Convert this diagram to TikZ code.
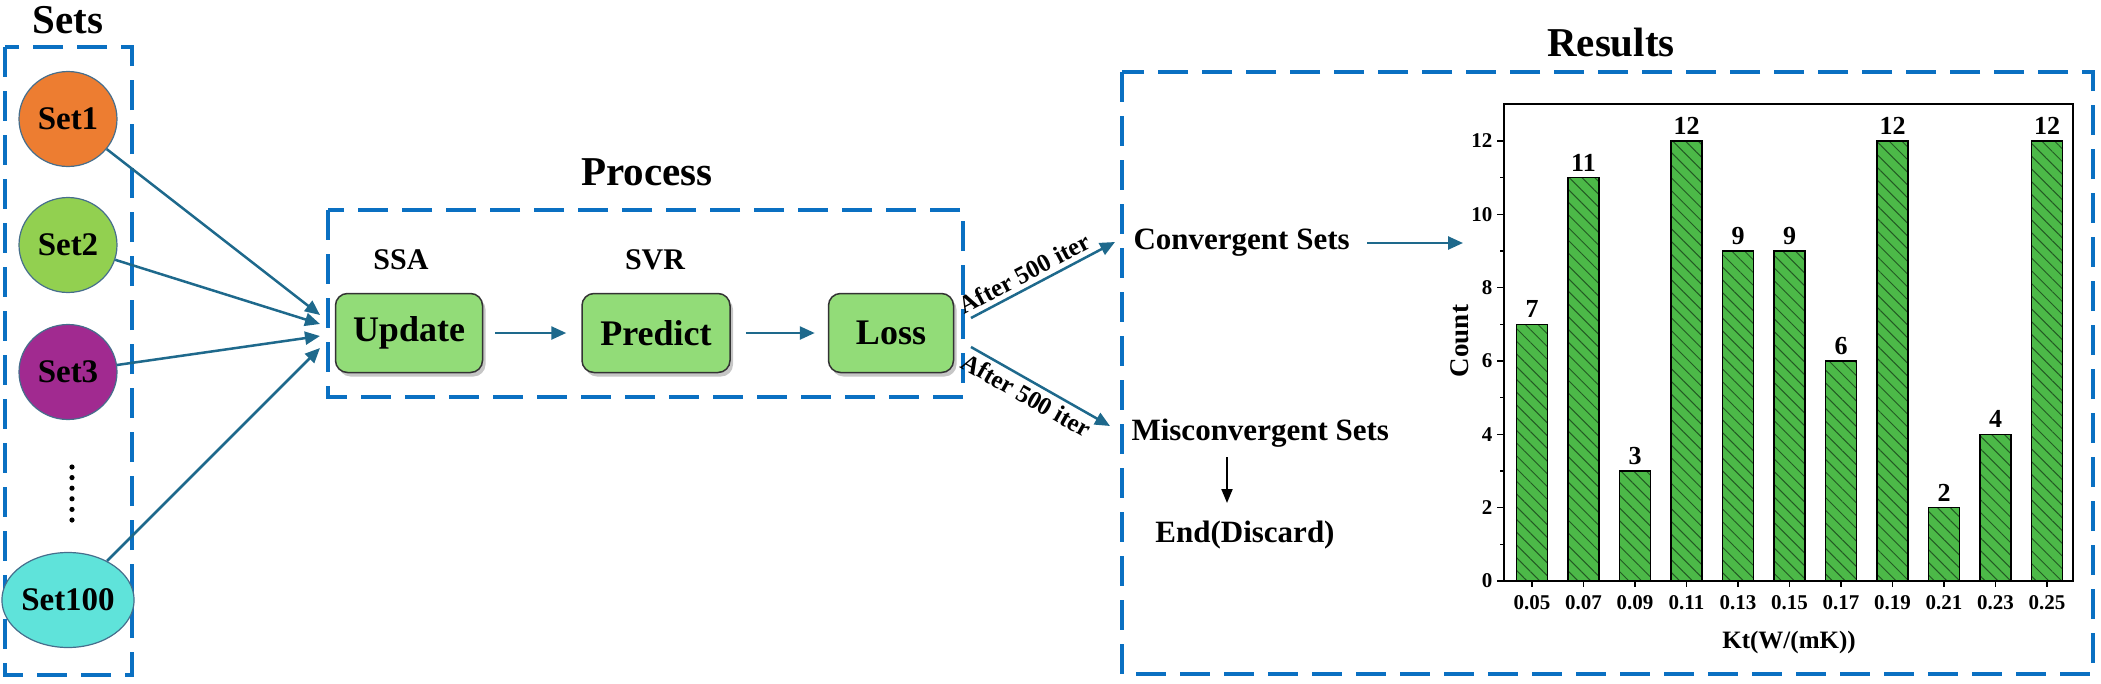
\documentclass[tikz,border=0pt]{standalone}
\usepackage{fontspec}
\setmainfont{Liberation Serif}
\usetikzlibrary{arrows.meta,shapes.geometric,shadows,patterns.meta}
\definecolor{dashblue}{RGB}{10,112,194}
\definecolor{arrc}{RGB}{30,105,140}
\definecolor{cone}{RGB}{237,125,49}
\definecolor{ctwo}{RGB}{146,208,80}
\definecolor{cthree}{RGB}{161,42,144}
\definecolor{cfour}{RGB}{95,227,218}
\definecolor{ellb}{RGB}{70,110,140}
\definecolor{boxg}{RGB}{146,220,120}
\definecolor{barg}{RGB}{76,185,72}
\definecolor{hatchg}{RGB}{35,90,35}
\newcommand\myfs[1]{\fontsize{#1}{#1}\selectfont\bfseries}
\begin{document}
\begin{tikzpicture}[x=1pt,y=-1pt,
  dbox/.style={draw=dashblue,line width=4pt,dash pattern=on 30pt off 14pt},
  setnode/.style={ellipse,draw=ellb,line width=1.2pt,minimum width=98pt,minimum height=95pt,inner sep=0pt,font=\myfs{33}},
  title/.style={font=\myfs{41}},
  procbox/.style={draw=black!80,line width=1.5pt,fill=boxg,rounded corners=12pt,minimum height=79pt,font=\myfs{36},inner sep=0pt,
     drop shadow={shadow xshift=3pt,shadow yshift=-4pt,opacity=0.45}},
  arr/.style={draw=arrc,line width=2.5pt,-{Triangle[length=15pt,width=13pt]}},
  blk/.style={draw=black,line width=2pt,-{Triangle[length=14pt,width=11pt]}},
  lab/.style={font=\myfs{31}},
  itl/.style={font=\myfs{25}},
  barstyle/.style={draw=black,line width=1.5pt,preaction={fill=barg},pattern={Lines[angle=-45,distance=9pt,line width=1pt]},pattern color=hatchg},
  vlab/.style={font=\myfs{26}},
  tlab/.style={font=\myfs{21}},
]
\useasboundingbox (0,0) rectangle (2101,683);

% ---------- Sets ----------
\node[title] (tsets) at (68,20) {Sets};
\draw[dbox] (5,47) rectangle (132,675);
\node[setnode,fill=cone] (s1) at (68,119) {Set1};
\node[setnode,fill=ctwo] (s2) at (68,245) {Set2};
\node[setnode,fill=cthree] (s3) at (68,372) {Set3};
\node[setnode,fill=cfour] (s4) at (68,600) {Set100};
\foreach \k in {0,...,5} \fill (72,467+10.6*\k) circle (2.6pt);

% ---------- Process ----------
\node[title] (tproc) at (647,172) {Process};
\draw[dbox] (328,210) rectangle (963,397);
\node[font=\myfs{30}] (ssa) at (401,260) {SSA};
\node[font=\myfs{30}] (svr) at (655,260) {SVR};
\node[procbox,minimum width=147pt] (upd) at (409,333) {Update};
\node[procbox,minimum width=148pt] (pred) at (656,333) {Predict};
\node[procbox,minimum width=125pt] (loss) at (891,333) {Loss};

\coordinate (t1) at (320,315);
\coordinate (t2) at (320,324);
\coordinate (t3) at (320,336);
\coordinate (t4) at (320,348);
\draw[arr] (s1) -- (t1);
\draw[arr] (s2) -- (t2);
\draw[arr] (s3) -- (t3);
\draw[arr] (s4) -- (t4);
\draw[arr,shorten <=12pt,shorten >=15pt] (upd.east) -- (pred.west);
\draw[arr,shorten <=15pt,shorten >=13pt] (pred.east) -- (loss.west);

% ---------- Outcomes ----------
\node[lab,anchor=west] (conv) at (1130,243) {Convergent Sets};
\node[lab,anchor=west] (misc) at (1128,433) {Misconvergent Sets};
\node[lab] (endd) at (1245,535) {End(Discard)};
\coordinate (a1s) at (971,318);
\coordinate (a1e) at (1115,242);
\coordinate (a2s) at (971,347);
\coordinate (a2e) at (1110,426);
\draw[arr] (a1s) -- node[itl,sloped,above=1pt,pos=0.42] {After 500 iter} (a1e);
\draw[arr] (a2s) -- node[itl,sloped,below=1pt,pos=0.45] {After 500 iter} (a2e);
\coordinate (d1) at (1227,457);
\coordinate (d2) at (1227,503);
\draw[blk] (d1) -- (d2);
\coordinate (c1) at (1367,243);
\coordinate (c2) at (1463,243);
\draw[arr] (c1) -- (c2);

% ---------- Results ----------
\node[title] (tres) at (1611,43) {Results};
\draw[dbox] (1122,72) rectangle (2093,674);

% chart
\foreach \t in {0,2,...,12} {
  \draw[line width=1.5pt] (1504,581-36.667*\t) -- (1497,581-36.667*\t);
  \node[tlab,anchor=east] at (1496,581-36.667*\t) {\t};
}
\foreach \t in {1,3,...,11} \draw[line width=1.5pt] (1504,581-36.667*\t) -- (1500,581-36.667*\t);
\foreach \v/\l [count=\i from 0] in {7/0.05,11/0.07,3/0.09,12/0.11,9/0.13,9/0.15,6/0.17,12/0.19,2/0.21,4/0.23,12/0.25} {
  \pgfmathsetmacro\cx{1532+51.5*\i}
  \pgfmathsetmacro\ty{581-36.667*\v}
  \draw[barstyle] (\cx-15.5,581) rectangle (\cx+15.5,\ty);
  \node[vlab] (v\i) at (\cx,\ty-15) {\v};
  \draw[line width=1.5pt] (\cx,581) -- (\cx,587);
  \node[tlab] (x\i) at (\cx,603) {\l};
}
\draw[line width=1.5pt] (1504,104) rectangle (2073,581);
\node[font=\myfs{27},rotate=90] (cnt) at (1460,341) {Count};
\node[font=\myfs{25}] (kt) at (1789,642) {Kt(W/(mK))};
\end{tikzpicture}
\end{document}
